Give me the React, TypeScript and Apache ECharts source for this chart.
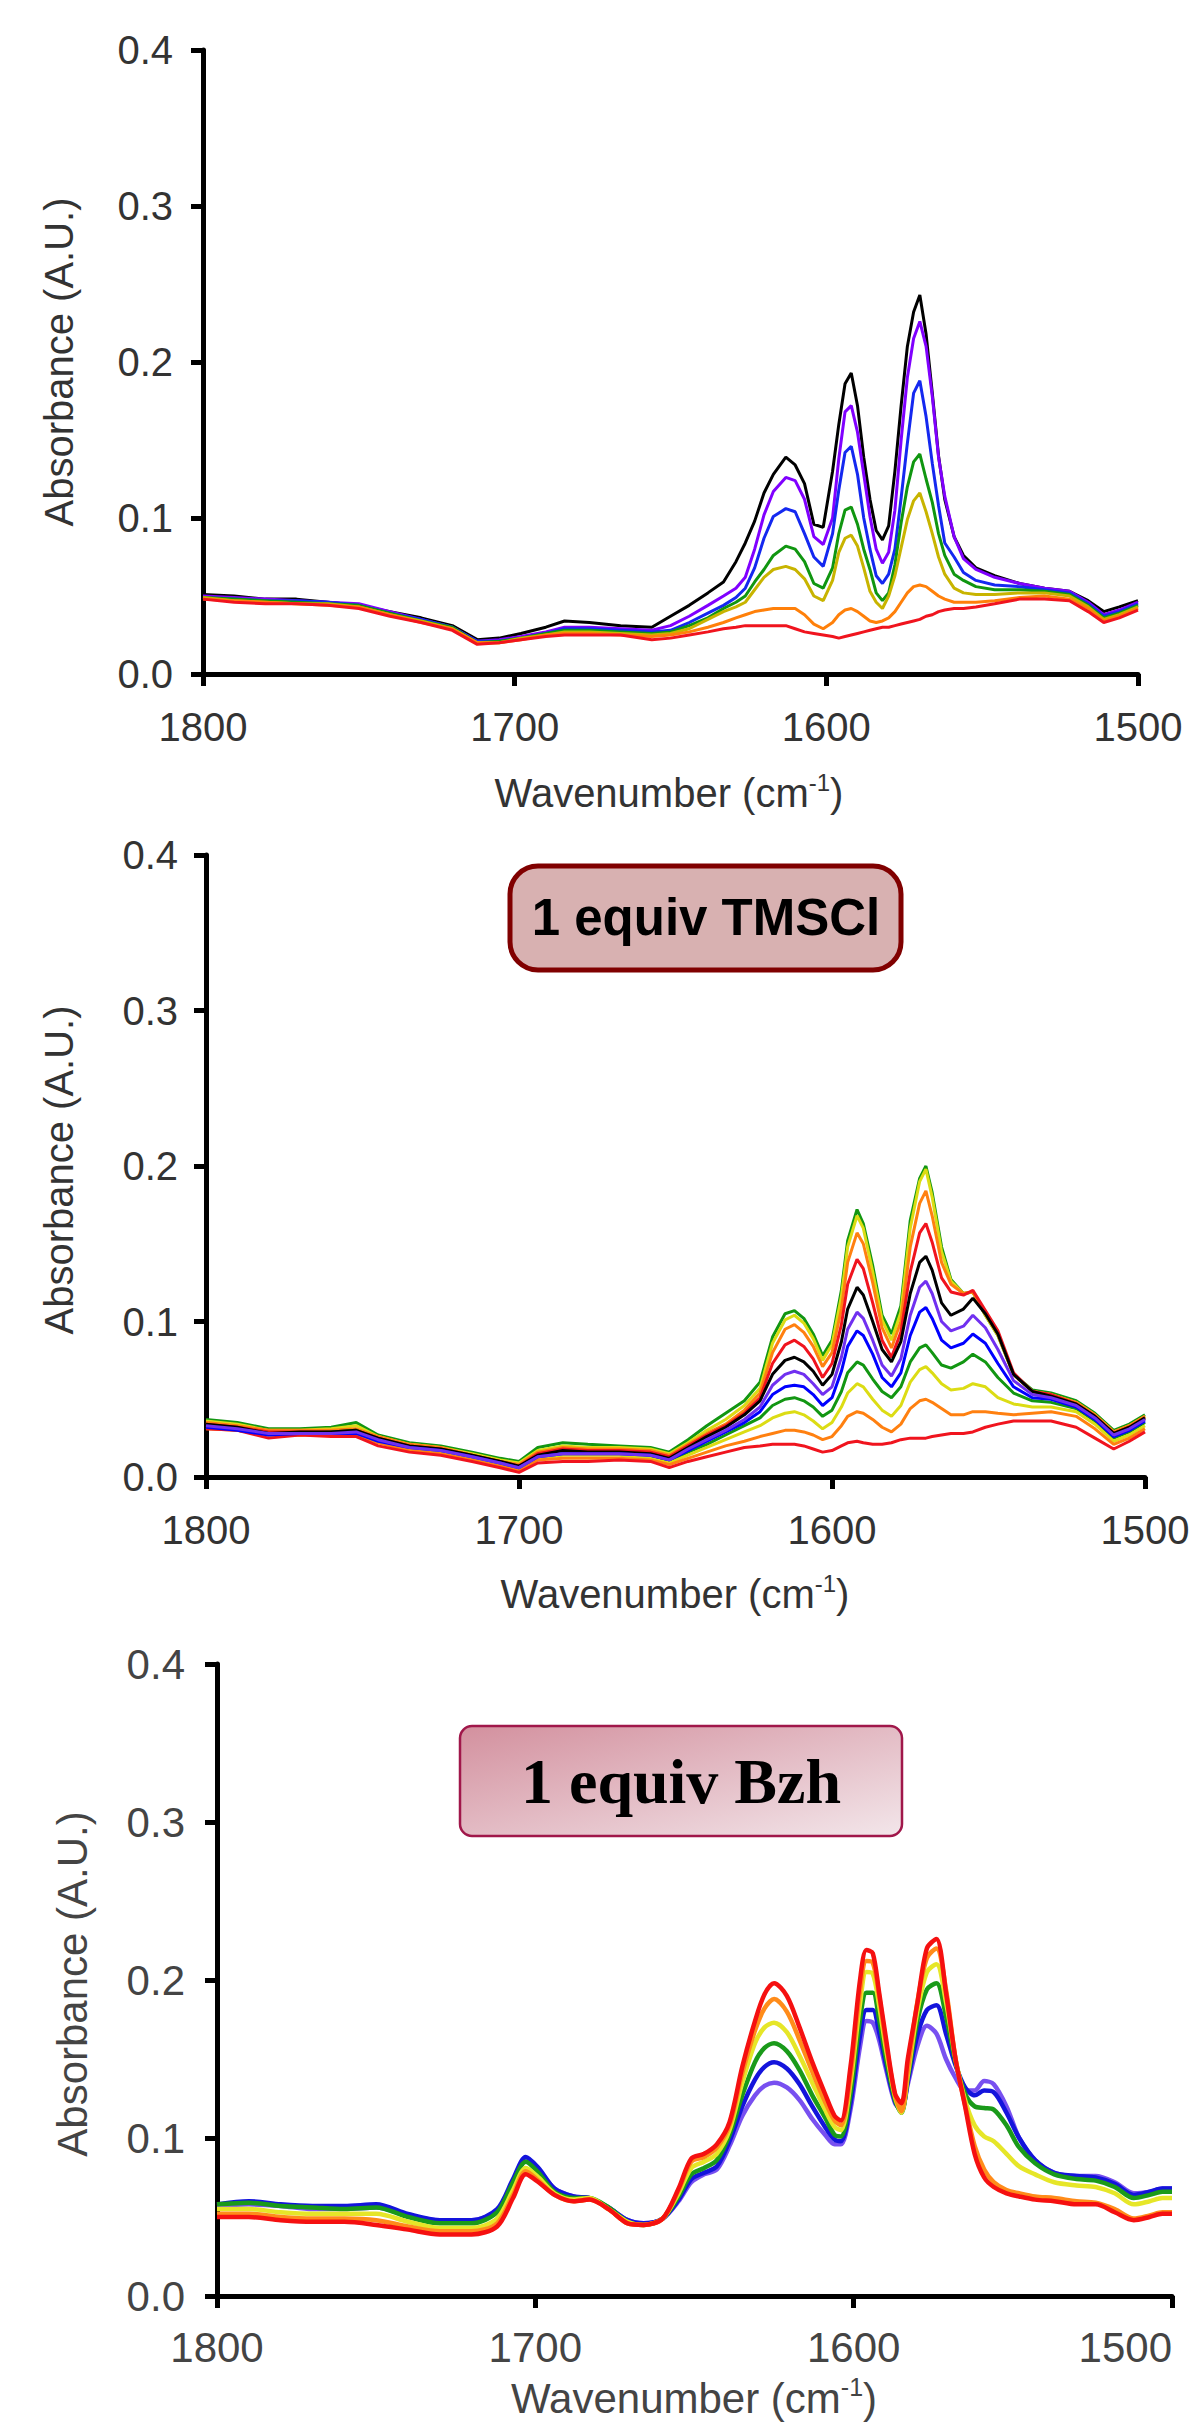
import React, { useEffect, useRef } from "react";
import * as echarts from "echarts";

// ---------- Panel 1 (no additive) ----------
const wn1 = [1800,1790,1780,1770,1760,1750,1740,1730,1720,1712,1705,1698,1690,1684,1676,1666,1656,1650,1644,1638,1633,1629,1626,1623,1620,1617,1613,1610,1607,1604,1601,1598,1596,1594,1592,1590,1588,1586,1584,1582,1580,1578,1576,1574,1572,1570,1568,1566,1564,1562,1559,1556,1552,1546,1538,1530,1522,1516,1511,1506,1500];
const p1Black = [.051,.050,.048,.048,.046,.044,.040,.036,.031,.022,.023,.026,.030,.034,.033,.031,.030,.037,.044,.052,.059,.072,.084,.098,.116,.128,.139,.134,.122,.096,.094,.130,.160,.186,.193,.172,.139,.112,.092,.086,.095,.130,.172,.210,.232,.243,.218,.180,.140,.112,.088,.076,.068,.063,.058,.055,.053,.047,.040,.043,.047];
const p1Purple = [.050,.049,.048,.047,.046,.045,.040,.035,.030,.021,.022,.024,.027,.030,.030,.029,.028,.031,.037,.044,.050,.055,.062,.080,.102,.117,.126,.124,.112,.088,.083,.100,.138,.168,.172,.155,.128,.101,.080,.071,.078,.105,.150,.190,.215,.226,.210,.178,.139,.114,.088,.074,.067,.062,.058,.055,.053,.046,.038,.041,.046];
const p1Blue = [.049,.048,.047,.047,.046,.044,.039,.035,.030,.021,.021,.023,.026,.029,.029,.028,.027,.028,.033,.039,.044,.049,.055,.068,.087,.101,.106,.104,.090,.075,.069,.090,.118,.142,.146,.128,.100,.080,.063,.058,.064,.080,.113,.148,.180,.188,.165,.135,.108,.084,.075,.065,.060,.057,.056,.054,.052,.045,.037,.040,.045];
const p1Green = [.049,.048,.047,.046,.045,.044,.039,.034,.030,.020,.021,.023,.026,.028,.028,.027,.026,.027,.031,.036,.042,.046,.050,.059,.067,.076,.082,.080,.072,.058,.055,.068,.090,.105,.107,.096,.080,.067,.052,.047,.052,.070,.097,.120,.136,.141,.125,.110,.090,.076,.064,.060,.056,.054,.054,.053,.051,.044,.036,.039,.044];
const p1Olive = [.049,.047,.046,.045,.045,.043,.038,.034,.029,.020,.020,.023,.025,.027,.027,.026,.025,.026,.029,.035,.040,.043,.046,.054,.062,.067,.069,.067,.061,.050,.047,.060,.078,.087,.089,.082,.068,.053,.046,.042,.050,.063,.081,.099,.111,.116,.104,.090,.075,.064,.055,.052,.051,.051,.052,.052,.050,.043,.035,.038,.043];
const p1Orange = [.048,.047,.046,.045,.044,.043,.038,.033,.029,.020,.020,.022,.025,.026,.026,.025,.024,.025,.027,.030,.033,.036,.038,.040,.041,.042,.042,.042,.038,.032,.029,.033,.038,.041,.042,.040,.037,.034,.033,.034,.036,.040,.046,.052,.056,.057,.056,.053,.050,.048,.046,.046,.046,.047,.049,.050,.048,.042,.034,.037,.042];
const p1Red = [.048,.046,.045,.045,.044,.042,.037,.033,.028,.019,.020,.022,.024,.025,.025,.025,.022,.023,.025,.027,.029,.030,.031,.031,.031,.031,.031,.029,.027,.026,.025,.024,.023,.024,.025,.026,.027,.028,.029,.030,.030,.031,.032,.033,.034,.035,.037,.038,.040,.041,.042,.042,.043,.045,.048,.048,.047,.040,.033,.036,.041];

// ---------- Panel 2 (1 equiv TMSCl) ----------
const wn2 = [1800,1790,1780,1770,1760,1752,1745,1735,1725,1715,1706,1700,1694,1686,1678,1668,1658,1652,1646,1640,1634,1628,1623,1619,1615,1612,1609,1606,1603,1600,1597,1595,1592,1590,1587,1584,1581,1578,1575,1572,1570,1568,1565,1562,1558,1555,1551,1547,1542,1536,1530,1522,1516,1510,1505,1500];
const p2Green1 = [.037,.035,.031,.031,.032,.035,.027,.022,.020,.016,.012,.010,.019,.022,.021,.020,.019,.016,.024,.033,.041,.049,.061,.090,.105,.107,.102,.092,.078,.088,.120,.152,.172,.163,.136,.104,.092,.110,.165,.192,.200,.183,.148,.127,.118,.119,.104,.091,.066,.056,.054,.049,.041,.030,.034,.040];
const p2Yellow1 = [.036,.034,.030,.030,.031,.033,.026,.021,.019,.015,.011,.009,.017,.020,.019,.019,.018,.015,.022,.030,.037,.046,.057,.086,.101,.104,.099,.089,.075,.085,.116,.148,.168,.160,.132,.101,.088,.106,.160,.190,.198,.180,.145,.126,.118,.119,.104,.091,.066,.055,.053,.048,.040,.029,.033,.039];
const p2Orange1 = [.035,.033,.030,.030,.030,.031,.026,.021,.019,.014,.010,.008,.016,.019,.018,.018,.017,.014,.021,.028,.034,.043,.054,.080,.095,.098,.093,.084,.071,.080,.108,.138,.157,.150,.125,.096,.083,.100,.148,.176,.184,.168,.138,.124,.118,.119,.105,.092,.066,.055,.053,.048,.040,.029,.033,.039];
const p2Red1 = [.034,.032,.029,.029,.029,.030,.025,.020,.018,.014,.010,.007,.015,.018,.017,.017,.016,.013,.020,.027,.033,.041,.051,.073,.085,.088,.084,.076,.064,.073,.098,.124,.140,.134,.112,.088,.077,.093,.132,.157,.163,.151,.128,.119,.117,.120,.107,.094,.067,.055,.053,.047,.039,.028,.032,.038];
const p2Black = [.034,.032,.028,.029,.029,.030,.025,.020,.018,.014,.010,.007,.014,.017,.016,.016,.015,.012,.019,.026,.032,.040,.049,.066,.075,.077,.074,.068,.059,.066,.087,.108,.122,.117,.100,.082,.074,.087,.118,.138,.142,.133,.112,.104,.108,.115,.105,.092,.066,.055,.052,.047,.039,.028,.032,.038];
const p2Purple = [.033,.031,.028,.028,.028,.029,.024,.019,.017,.013,.009,.006,.013,.015,.015,.015,.014,.011,.018,.024,.030,.037,.045,.059,.066,.068,.066,.060,.053,.058,.077,.095,.106,.102,.088,.072,.065,.076,.104,.122,.126,.118,.100,.094,.097,.104,.096,.082,.062,.053,.051,.046,.038,.027,.031,.037];
const p2Blue = [.032,.030,.027,.028,.028,.028,.023,.019,.017,.013,.009,.006,.013,.015,.015,.015,.014,.011,.017,.023,.029,.035,.042,.053,.058,.059,.058,.053,.046,.051,.068,.084,.094,.091,.079,.064,.058,.067,.091,.106,.109,.102,.088,.083,.086,.092,.086,.073,.058,.051,.050,.045,.037,.026,.030,.036];
const p2Green2 = [.033,.031,.028,.028,.029,.030,.024,.019,.017,.013,.009,.006,.013,.015,.015,.015,.013,.010,.016,.021,.027,.033,.038,.046,.050,.051,.049,.045,.039,.043,.055,.067,.074,.072,.063,.055,.051,.058,.074,.083,.085,.080,.072,.070,.074,.079,.074,.064,.054,.049,.048,.044,.036,.025,.029,.035];
const p2Yellow2 = [.032,.030,.027,.027,.028,.028,.023,.018,.016,.012,.008,.005,.012,.014,.014,.014,.012,.009,.014,.019,.024,.029,.033,.038,.041,.042,.040,.036,.031,.035,.045,.054,.060,.058,.050,.043,.039,.046,.061,.069,.071,.067,.060,.056,.057,.060,.058,.051,.047,.045,.045,.042,.034,.023,.027,.033];
const p2Orange2 = [.031,.030,.027,.027,.027,.027,.022,.017,.015,.011,.007,.004,.011,.012,.012,.012,.011,.008,.012,.016,.020,.023,.026,.028,.030,.030,.029,.027,.024,.026,.033,.039,.042,.041,.037,.032,.029,.034,.044,.049,.050,.048,.044,.040,.040,.042,.042,.041,.040,.041,.042,.039,.031,.021,.025,.031];
const p2Red2 = [.031,.030,.025,.027,.026,.026,.020,.016,.014,.010,.006,.003,.009,.010,.010,.011,.010,.006,.010,.013,.016,.019,.020,.021,.021,.021,.020,.018,.016,.017,.020,.022,.023,.022,.021,.021,.022,.024,.025,.025,.025,.026,.027,.028,.028,.029,.032,.034,.036,.036,.036,.032,.025,.018,.023,.029];

// ---------- Panel 3 (1 equiv Bzh) ----------
const wn3 = [1800,1790,1780,1770,1760,1750,1740,1730,1720,1712,1707,1703,1699,1694,1688,1683,1677,1671,1666,1660,1655,1651,1647,1643,1639,1635,1631,1628,1625,1621,1617,1613,1609,1606,1604,1601,1598,1596,1594,1592,1590,1587,1585,1583,1580,1577,1574,1571,1568,1565,1562,1559,1556,1552,1548,1543,1537,1530,1524,1518,1512,1507,1503,1500];
const p3Violet = [.057,.058,.057,.055,.055,.056,.051,.048,.048,.054,.072,.086,.080,.068,.063,.062,.056,.048,.046,.049,.060,.072,.077,.080,.095,.114,.127,.133,.135,.132,.124,.112,.102,.096,.096,.118,.158,.174,.173,.162,.145,.122,.118,.134,.158,.171,.166,.150,.138,.130,.130,.136,.134,.120,.100,.086,.078,.076,.076,.072,.065,.066,.068,.068];
const p3Blue = [.058,.060,.058,.057,.057,.058,.052,.048,.048,.055,.074,.088,.081,.068,.063,.062,.056,.048,.046,.049,.061,.074,.078,.082,.098,.120,.137,.145,.148,.144,.134,.120,.107,.099,.098,.122,.165,.181,.181,.167,.148,.123,.117,.136,.165,.181,.184,.166,.146,.132,.127,.130,.129,.116,.100,.086,.078,.076,.075,.071,.064,.066,.068,.068];
const p3Green = [.058,.059,.057,.056,.055,.056,.050,.046,.046,.053,.072,.085,.078,.066,.062,.062,.056,.047,.045,.049,.063,.077,.081,.086,.102,.127,.148,.157,.160,.155,.143,.127,.113,.102,.101,.128,.175,.192,.192,.175,.152,.124,.116,.138,.174,.194,.198,.177,.148,.128,.120,.119,.118,.108,.094,.084,.077,.074,.073,.069,.062,.064,.066,.066];
const p3Yellow = [.055,.055,.053,.052,.052,.052,.047,.043,.043,.049,.067,.081,.075,.065,.061,.062,.055,.047,.045,.049,.065,.081,.085,.090,.105,.135,.160,.170,.173,.167,.152,.135,.118,.107,.105,.135,.185,.205,.204,.184,.158,.126,.116,.140,.180,.205,.210,.186,.150,.124,.108,.101,.098,.090,.082,.077,.072,.070,.069,.065,.058,.060,.062,.062];
const p3Orange = [.052,.052,.050,.049,.049,.048,.044,.041,.041,.046,.064,.079,.073,.064,.060,.061,.055,.046,.045,.049,.067,.085,.088,.094,.108,.141,.168,.182,.188,.180,.162,.142,.123,.111,.108,.140,.193,.212,.211,.190,.162,.127,.117,.143,.186,.214,.220,.194,.150,.121,.095,.080,.072,.067,.065,.063,.062,.060,.059,.055,.049,.051,.053,.053];
const p3Red = [.050,.050,.048,.047,.047,.045,.042,.039,.039,.044,.062,.077,.072,.064,.060,.061,.055,.046,.045,.049,.068,.087,.090,.096,.110,.145,.174,.191,.198,.190,.170,.148,.128,.114,.111,.145,.200,.219,.217,.192,.165,.128,.122,.150,.185,.220,.226,.192,.150,.120,.090,.075,.069,.065,.063,.061,.060,.058,.058,.053,.048,.050,.052,.052];

const xTicks = [1800, 1700, 1600, 1500];
const yTicks = [0.0, 0.1, 0.2, 0.3, 0.4];
const xTitle = "Wavenumber (cm{sup|-1})";
const yTitle = "Absorbance (A.U.)";
const box2Text = "1 equiv TMSCl";
const box3Text = "1 equiv Bzh";

const SANS = "'Liberation Sans', Arial, Helvetica, sans-serif";
const SERIF = "'Liberation Serif', 'Times New Roman', serif";

const zip = (xs: number[], ys: number[]) => xs.map((x, i) => [x, ys[i]]);

function axes(idx: number, fontSize: number, labelColor: string, xMargin: number, yMargin: number, alignRightEnd?: boolean) {
  const axisLine = { show: true, onZero: false, lineStyle: { color: "#000", width: 5 } };
  const axisTick = { show: true, inside: false, length: 12, lineStyle: { color: "#000", width: 5 } };
  const x: any = {
    type: "value", gridIndex: idx, min: 1500, max: 1800, interval: 100, inverse: true,
    axisLine, axisTick, splitLine: { show: false },
    axisLabel: { show: true, margin: xMargin, fontSize, color: labelColor, fontFamily: SANS,
      formatter: (v: number) => (xTicks.includes(v) ? String(v) : "") },
  };
  if (alignRightEnd) x.axisLabel.alignMinLabel = "right";
  const y = {
    type: "value", gridIndex: idx, min: 0, max: 0.4, interval: 0.1,
    axisLine, axisTick, splitLine: { show: false },
    axisLabel: { show: true, margin: yMargin, fontSize, color: labelColor, fontFamily: SANS,
      formatter: (v: number) => {
        const t = yTicks.find((k) => Math.abs(k - v) < 1e-6);
        return t === undefined ? "" : t.toFixed(1);
      } },
  };
  return { x, y };
}

function lines(idx: number, xs: number[], list: [number[], string][], width: number, smooth: number) {
  return list.map(([ys, color]) => ({
    type: "line", xAxisIndex: idx, yAxisIndex: idx, data: zip(xs, ys),
    showSymbol: false, symbol: "none", smooth, silent: true,
    lineStyle: { color, width }, z: 2,
  }));
}

export default function App() {
  const ref = useRef<HTMLDivElement>(null);
  useEffect(() => {
    document.body.style.margin = "0";
    const chart = echarts.init(ref.current!, null, { renderer: "svg" });
    const a1 = axes(0, 40, "#333", 33, 30);
    const a2 = axes(1, 40, "#333", 33, 28);
    const a3 = axes(2, 42, "#444", 30, 32, true);
    const series = [
      ...lines(0, wn1, [
        [p1Black, "#000000"], [p1Purple, "#8000ff"], [p1Blue, "#1428f0"], [p1Green, "#109610"],
        [p1Olive, "#c8b400"], [p1Orange, "#ff800a"], [p1Red, "#f0141e"],
      ], 3, 0),
      ...lines(1, wn2, [
        [p2Green1, "#129612"], [p2Yellow1, "#dcdc14"], [p2Orange1, "#ff8010"], [p2Red1, "#f0141e"],
        [p2Green2, "#129612"], [p2Yellow2, "#dcdc14"], [p2Orange2, "#ff8010"], [p2Red2, "#f0141e"],
        [p2Black, "#000000"], [p2Blue, "#0000ff"], [p2Purple, "#7030f0"],
      ], 3, 0),
      ...lines(2, wn3, [
        [p3Violet, "#7850f0"], [p3Blue, "#1414dc"], [p3Green, "#1a9a1a"],
        [p3Yellow, "#e6e628"], [p3Orange, "#ff8c1a"], [p3Red, "#f51010"],
      ], 4.5, 0.3),
    ];
    const xt = (x: number, y: number, fs: number, color: string) => ({
      type: "text", x, y, silent: true,
      style: {
        text: xTitle, fontSize: fs, fontFamily: SANS, fill: color, align: "center", verticalAlign: "middle",
        lineHeight: fs + 6,
        rich: { sup: { fontSize: Math.round(fs * 0.6), fontFamily: SANS, fill: color, verticalAlign: "top", lineHeight: Math.round(fs * 0.6) } },
      },
    });
    const yt = (x: number, y: number, fs: number, color: string) => ({
      type: "text", x, y, rotation: Math.PI / 2, silent: true,
      style: { text: yTitle, fontSize: fs, fontFamily: SANS, fill: color, align: "center", verticalAlign: "middle" },
    });
    chart.setOption({
      animation: false,
      backgroundColor: "#ffffff",
      grid: [
        { left: 203, top: 50, width: 935, height: 624, outerBoundsMode: "none", containLabel: false },
        { left: 206, top: 855, width: 939, height: 622, outerBoundsMode: "none", containLabel: false },
        { left: 217, top: 1664, width: 955, height: 632, outerBoundsMode: "none", containLabel: false },
      ],
      xAxis: [a1.x, a2.x, a3.x],
      yAxis: [a1.y, a2.y, a3.y],
      series,
      graphic: [
        yt(59, 362, 40, "#333"),
        xt(669, 793, 40, "#333"),
        yt(59, 1170, 40, "#333"),
        xt(675, 1594, 40, "#333"),
        yt(72, 1984, 42, "#444"),
        xt(694, 2398, 42, "#444"),
        {
          type: "rect", silent: true,
          shape: { x: 510, y: 866, width: 391, height: 104, r: 28 },
          style: { fill: "#d8b1b1", stroke: "#800000", lineWidth: 5 },
        },
        {
          type: "text", x: 706, y: 917, silent: true,
          style: { text: box2Text, fontSize: 51, fontWeight: "bold", fontFamily: SANS, fill: "#000", align: "center", verticalAlign: "middle" },
        },
        {
          type: "rect", silent: true,
          shape: { x: 460, y: 1726, width: 442, height: 110, r: 12 },
          style: {
            fill: new echarts.graphic.LinearGradient(0, 0, 1, 1, [
              { offset: 0, color: "#d3909e" },
              { offset: 1, color: "#f3e6ea" },
            ]),
            stroke: "#a0174a", lineWidth: 2.5,
          },
        },
        {
          type: "text", x: 681, y: 1781, silent: true,
          style: { text: box3Text, fontSize: 64, fontWeight: "bold", fontFamily: SERIF, fill: "#000", align: "center", verticalAlign: "middle" },
        },
      ],
    });
    return () => chart.dispose();
  }, []);
  return (
    <div
      ref={ref}
      style={{ position: "absolute", left: 0, top: 0, width: 1195, height: 2426, background: "#fff" }}
    />
  );
}
